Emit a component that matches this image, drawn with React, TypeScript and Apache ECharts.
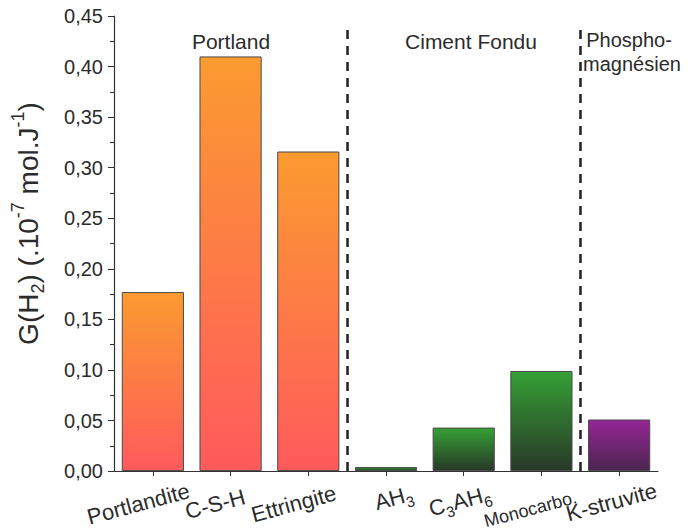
import React, { useEffect, useRef } from "react";
import * as echarts from "echarts";

const categories = ["Portlandite", "C-S-H", "Ettringite", "AH3", "C3AH6", "Monocarbo.", "K-struvite"];
const values = [0.177, 0.41, 0.316, 0.004, 0.043, 0.099, 0.051];
const families = ["portland", "portland", "portland", "fondu", "fondu", "fondu", "phospho"];
const dividers = [3, 6];
const groupLabels = ["Portland", "Ciment Fondu", "Phospho-", "magnésien"];
const yMin = 0;
const yMax = 0.45;
const yInterval = 0.05;

// layout only: horizontal shift (px) of each rotated category label from its tick
const labelShift = [-15, -16, -15, 8, -4, -13, -8];

const gradients: Record<string, [string, string]> = {
  portland: ["#fb9b30", "#ff5a5c"],
  fondu: ["#35a035", "#283828"],
  phospho: ["#962696", "#4a2550"],
};

const FONT = "Liberation Sans, Arial, sans-serif";
const TEXT = "#2b2b2b";

function xLabel(v: string, i: number): string {
  let body: string;
  if (v === "AH3") body = "{n|AH}{s|3}";
  else if (v === "C3AH6") body = "{n|C}{s|3}{n|AH}{s|6}";
  else if (v === "Monocarbo.") body = "{m|Monocarbo.}";
  else body = "{n|" + v + "}";
  const sh = labelShift[i] || 0;
  const sp = "{g" + i + "|}";
  return sh < 0 ? body + sp : sp + body;
}

export default function App() {
  const ref = useRef<HTMLDivElement>(null);
  useEffect(() => {
    document.body.style.margin = "0";
    const chart = echarts.init(ref.current!, null, { renderer: "svg" });
    const barData = values.map((v, i) => {
      const [top, bottom] = gradients[families[i]];
      return {
        value: v,
        itemStyle: {
          color: new echarts.graphic.LinearGradient(0, 0, 0, 1, [
            { offset: 0, color: top },
            { offset: 1, color: bottom },
          ]),
          borderColor: "#4a4a4a",
          borderWidth: 1,
        },
      };
    });
    const rich: Record<string, any> = {
      n: { fontSize: 22, fontFamily: FONT, color: TEXT, lineHeight: 30, verticalAlign: "middle" },
      s: { fontSize: 15, fontFamily: FONT, color: TEXT, lineHeight: 30, verticalAlign: "bottom" },
      m: { fontSize: 18, fontFamily: FONT, color: TEXT, lineHeight: 30, verticalAlign: "bottom" },
    };
    labelShift.forEach((s, i) => {
      rich["g" + i] = { width: Math.abs(s) * 2, lineHeight: 30 };
    });
    chart.setOption({
      animation: false,
      backgroundColor: "#ffffff",
      grid: { left: 114, right: 35, top: 16, bottom: 57, containLabel: false },
      xAxis: [
        {
          type: "category",
          data: categories,
          axisLine: { lineStyle: { color: "#333", width: 1.2 } },
          axisTick: { show: true, alignWithLabel: true, length: 5, lineStyle: { color: "#333" } },
          axisLabel: {
            rotate: 15,
            interval: 0,
            align: "center",
            verticalAlign: "middle",
            margin: 29,
            formatter: (v: string, i: number) => xLabel(v, i),
            rich,
          },
        },
        { type: "value", min: 0, max: categories.length, show: false },
      ],
      yAxis: {
        type: "value",
        min: yMin,
        max: yMax,
        interval: yInterval,
        splitLine: { show: false },
        axisLine: { show: true, lineStyle: { color: "#333", width: 1.2 } },
        axisTick: { show: true, length: 6, lineStyle: { color: "#333" } },
        minorTick: { show: true, splitNumber: 2, length: 4, lineStyle: { color: "#333" } },
        axisLabel: {
          margin: 11,
          fontSize: 20,
          fontFamily: FONT,
          color: TEXT,
          formatter: (v: number) => v.toFixed(2).replace(".", ","),
        },
        name: "{n|G(H}{s|2}{n|) (.10}{u|-7}{n| mol.J}{u|-1}{n|)}",
        nameLocation: "middle",
        nameRotate: 90,
        nameGap: 67,
        nameTextStyle: {
          padding: [0, 0, 0, 40],
          rich: {
            n: { fontSize: 28, fontFamily: FONT, color: TEXT, lineHeight: 38, verticalAlign: "middle" },
            s: { fontSize: 18, fontFamily: FONT, color: TEXT, lineHeight: 38, verticalAlign: "bottom" },
            u: { fontSize: 18, fontFamily: FONT, color: TEXT, lineHeight: 38, verticalAlign: "top" },
          },
        },
      },
      graphic: [
        { type: "text", x: 231, y: 41, style: { text: groupLabels[0], font: "21px " + FONT, fill: TEXT, align: "center", verticalAlign: "middle" } },
        { type: "text", x: 471, y: 41, style: { text: groupLabels[1], font: "21px " + FONT, fill: TEXT, align: "center", verticalAlign: "middle" } },
        { type: "text", x: 629, y: 40, style: { text: groupLabels[2], font: "20px " + FONT, fill: TEXT, align: "center", verticalAlign: "middle" } },
        { type: "text", x: 632, y: 64, style: { text: groupLabels[3], font: "20px " + FONT, fill: TEXT, align: "center", verticalAlign: "middle" } },
      ],
      series: [
        {
          type: "bar",
          data: barData,
          barWidth: "80%",
          xAxisIndex: 0,
        },
        {
          type: "line",
          xAxisIndex: 1,
          data: [],
          markLine: {
            silent: true,
            symbol: "none",
            label: { show: false },
            lineStyle: { type: [9, 7], width: 2.5, color: "#222" },
            data: dividers.map((d) => [{ coord: [d, yMin] }, { coord: [d, 0.441] }]),
          },
        },
      ],
    });
    return () => chart.dispose();
  }, []);
  return <div ref={ref} style={{ width: 693, height: 531 }} />;
}
